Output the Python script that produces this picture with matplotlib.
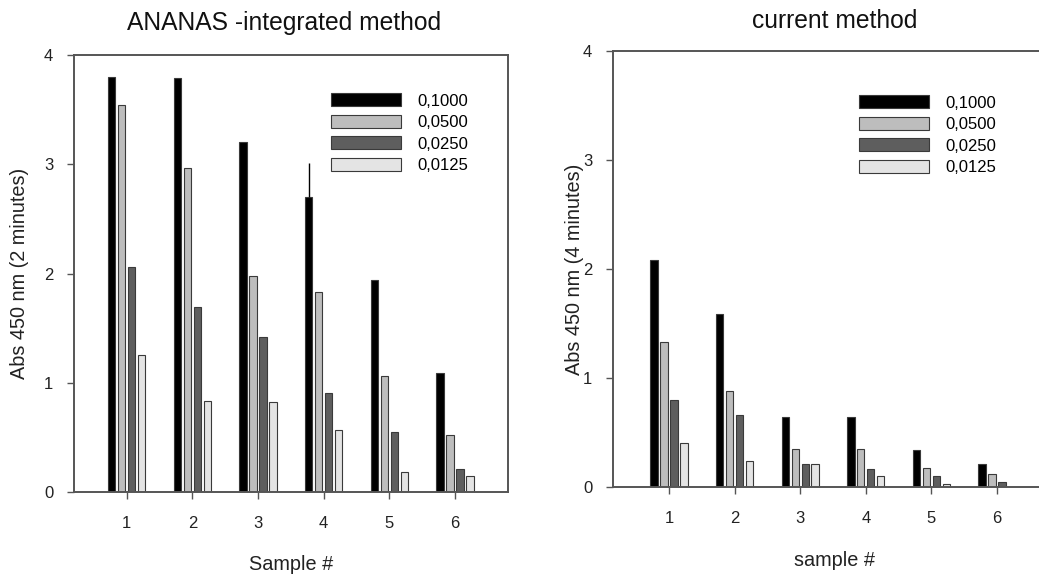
import matplotlib
matplotlib.use("Agg")
import matplotlib.pyplot as plt
import numpy as np

plt.rcParams['font.family'] = ['Liberation Sans', 'DejaVu Sans']

samples = [1, 2, 3, 4, 5, 6]
series_labels = ["0,1000", "0,0500", "0,0250", "0,0125"]
colors = ["#000000", "#bdbdbd", "#5e5e5e", "#e4e4e4"]

# ANANAS-integrated method (2 minutes)
left_1000 = [3.80, 3.79, 3.20, 2.70, 1.94, 1.09]
left_0500 = [3.54, 2.97, 1.98, 1.83, 1.06, 0.52]
left_0250 = [2.06, 1.69, 1.42, 0.91, 0.55, 0.21]
left_0125 = [1.25, 0.83, 0.82, 0.57, 0.18, 0.15]
left_1000_err_up = [0, 0, 0, 0.31, 0, 0]

# current method (4 minutes)
right_1000 = [2.08, 1.59, 0.645, 0.645, 0.34, 0.21]
right_0500 = [1.33, 0.88, 0.35, 0.345, 0.17, 0.12]
right_0250 = [0.80, 0.66, 0.21, 0.165, 0.10, 0.05]
right_0125 = [0.40, 0.24, 0.21, 0.10, 0.03, 0.0]

W, H = 1039, 576
fig = plt.figure(figsize=(W / 100, H / 100), dpi=100)

def px_axes(l, t, r, b):
    return fig.add_axes([l / W, 1 - b / H, (r - l) / W, (b - t) / H])

spine_col = "#555555"

def style(ax):
    for s in ax.spines.values():
        s.set_color(spine_col)
        s.set_linewidth(1.4)
    ax.tick_params(direction='out', length=5, width=1.0, color=spine_col,
                   labelsize=12, labelcolor="#222222")
    ax.tick_params(axis='x', pad=12)
    ax.tick_params(axis='y', pad=10)

def draw(ax, data, err=None):
    x = np.array(samples, dtype=float)
    step = 0.152
    width = 0.112
    offsets = [-1.5 * step, -0.5 * step, 0.5 * step, 1.5 * step]
    for i, (vals, c, lab) in enumerate(zip(data, colors, series_labels)):
        kw = {}
        if i == 0 and err is not None:
            kw = dict(yerr=[np.zeros(len(err)), err],
                      error_kw=dict(ecolor="black", elinewidth=1.0, capsize=0))
        ax.bar(x + offsets[i], vals, width=width, color=c, edgecolor="#3a3a3a",
               linewidth=0.8, label=lab, **kw)
    ax.set_xticks(samples)
    ax.set_yticks([0, 1, 2, 3, 4])
    ax.set_ylim(0, 4)

# Left axes
axL = px_axes(74, 55, 508, 492)
draw(axL, [left_1000, left_0500, left_0250, left_0125], err=left_1000_err_up)
axL.set_xlim(1 - 52.7 / 65.66, 6 + 53 / 65.66)
style(axL)

# Right axes (extends beyond right edge)
axR = px_axes(613, 51, 1070, 487)
draw(axR, [right_1000, right_0500, right_0250, right_0125])
axR.set_xlim(1 - 56 / 65.6, 1 + (1070 - 669) / 65.6)
style(axR)
axR.spines['right'].set_visible(False)

# Legends
def add_legend(ax, left_px, top_px):
    ax.legend(loc='upper left', bbox_to_anchor=(left_px / W, 1 - top_px / H),
              bbox_transform=fig.transFigure, frameon=False, fontsize=12,
              handlelength=4.2, handleheight=0.82, labelspacing=0.37,
              handletextpad=1.0, borderpad=0, borderaxespad=0)

add_legend(axL, 330.7, 93.5)
add_legend(axR, 859, 95.5)

# Titles and labels
fig.text(284 / W, 1 - 23 / H, "ANANAS -integrated method", ha='center', va='center',
         fontsize=17.7, color="#111111")
fig.text(835 / W, 1 - 21 / H, "current method", ha='center', va='center',
         fontsize=17.7, color="#111111")
fig.text(20 / W, 1 - 273.5 / H, "Abs 450 nm (2 minutes)", rotation=90,
         ha='center', va='center', fontsize=14.3, color="#222222")
fig.text(575 / W, 1 - 269 / H, "Abs 450 nm (4 minutes)", rotation=90,
         ha='center', va='center', fontsize=14.3, color="#222222")
fig.text(291 / W, 1 - 565 / H, "Sample #", ha='center', va='center',
         fontsize=14.3, color="#222222")
fig.text(834 / W, 1 - 561 / H, "sample #", ha='center', va='center',
         fontsize=14.3, color="#222222")

fig.savefig("out.png", dpi=100)
